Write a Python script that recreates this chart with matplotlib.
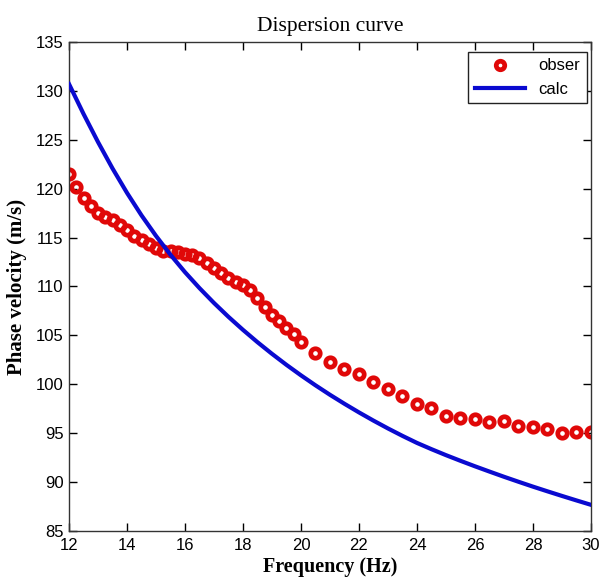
import matplotlib
matplotlib.use("Agg")
import matplotlib.pyplot as plt
from matplotlib import font_manager

# Observed phase velocities (dense below 20 Hz, then every 0.5 Hz)
obs_freq = [12.0, 12.25, 12.5, 12.75, 13.0, 13.25, 13.5, 13.75, 14.0, 14.25,
            14.5, 14.75, 15.0, 15.25, 15.5, 15.75, 16.0, 16.25, 16.5, 16.75,
            17.0, 17.25, 17.5, 17.75, 18.0, 18.25, 18.5, 18.75, 19.0, 19.25,
            19.5, 19.75, 20.0,
            20.5, 21.0, 21.5, 22.0, 22.5, 23.0, 23.5, 24.0, 24.5, 25.0,
            25.5, 26.0, 26.5, 27.0, 27.5, 28.0, 28.5, 29.0, 29.5, 30.0]
obs_vel = [121.5, 120.2, 119.0, 118.2, 117.5, 117.1, 116.8, 116.3, 115.8, 115.2,
           114.7, 114.3, 113.9, 113.6, 113.6, 113.5, 113.3, 113.2, 112.9, 112.4,
           111.9, 111.4, 110.9, 110.5, 110.1, 109.6, 108.8, 107.9, 107.1, 106.5,
           105.8, 105.1, 104.3,
           103.2, 102.3, 101.6, 101.0, 100.2, 99.5, 98.8, 98.0, 97.6, 96.8,
           96.5, 96.4, 96.1, 96.2, 95.7, 95.6, 95.4, 95.0, 95.1, 95.1]

# Calculated dispersion curve
calc_freq = [12.0, 12.5, 13.0, 13.5, 14.0, 14.5, 15.0, 15.5, 16.0, 16.5,
             17.0, 17.5, 18.0, 18.5, 19.0, 19.5, 20.0, 20.5, 21.0, 21.5,
             22.0, 22.5, 23.0, 23.5, 24.0, 24.5, 25.0, 25.5, 26.0, 26.5,
             27.0, 27.5, 28.0, 28.5, 29.0, 29.5, 30.0]
calc_vel = [130.70, 127.65, 124.77, 122.07, 119.57, 117.27, 115.17, 113.24, 111.46, 109.83,
            108.31, 106.89, 105.56, 104.30, 103.11, 101.98, 100.91, 99.89, 98.92, 98.00,
            97.12, 96.28, 95.48, 94.72, 94.00, 93.36, 92.75, 92.17, 91.61, 91.07,
            90.54, 90.03, 89.53, 89.05, 88.58, 88.12, 87.67]

xticks = [12, 14, 16, 18, 20, 22, 24, 26, 28, 30]
yticks = [85, 90, 95, 100, 105, 110, 115, 120, 125, 130, 135]

available = {f.name for f in font_manager.fontManager.ttflist}
sans = "Liberation Sans Narrow" if "Liberation Sans Narrow" in available else "Liberation Sans"
serif = "Liberation Serif"

fig = plt.figure(figsize=(6.08, 5.79), dpi=100)
ax = fig.add_axes([0.1135, 0.083, 0.8585, 0.8445])

ax.plot(obs_freq, obs_vel, linestyle="none", marker="o", markersize=6.8,
        markeredgewidth=3.4, markeredgecolor="#e00808", markerfacecolor="none",
        label="obser", zorder=2)
ax.plot(calc_freq, calc_vel, color="#0a0ad0", linewidth=3.0, label="calc",
        solid_joinstyle="round", zorder=3)

ax.set_xlim(12, 30)
ax.set_ylim(85, 135)
ax.set_xticks(xticks)
ax.set_yticks(yticks)
ax.tick_params(direction="in", length=6, width=1, top=True, right=True,
               labelsize=12)
ax.tick_params(axis="x", pad=5)
ax.tick_params(axis="y", pad=4)
for lab in ax.get_xticklabels() + ax.get_yticklabels():
    lab.set_fontfamily(sans)
for s in ax.spines.values():
    s.set_linewidth(1.0)
    s.set_color("#333333")

ax.set_title("Dispersion curve", fontfamily=serif, fontsize=15.5, pad=8)
ax.set_xlabel("Frequency (Hz)", fontfamily=serif, fontsize=14.5, fontweight="bold", labelpad=3)
ax.set_ylabel("Phase velocity (m/s)", fontfamily=serif, fontsize=15, fontweight="bold", labelpad=6)

leg = ax.legend(loc="upper right", prop={"family": sans, "size": 12},
                fancybox=False, edgecolor="#222222", framealpha=1,
                bbox_to_anchor=(0.992, 0.98), borderaxespad=0.0,
                handlelength=3.0, markerscale=0.9)
leg.get_frame().set_linewidth(1.0)

fig.savefig("out.png", dpi=100)
